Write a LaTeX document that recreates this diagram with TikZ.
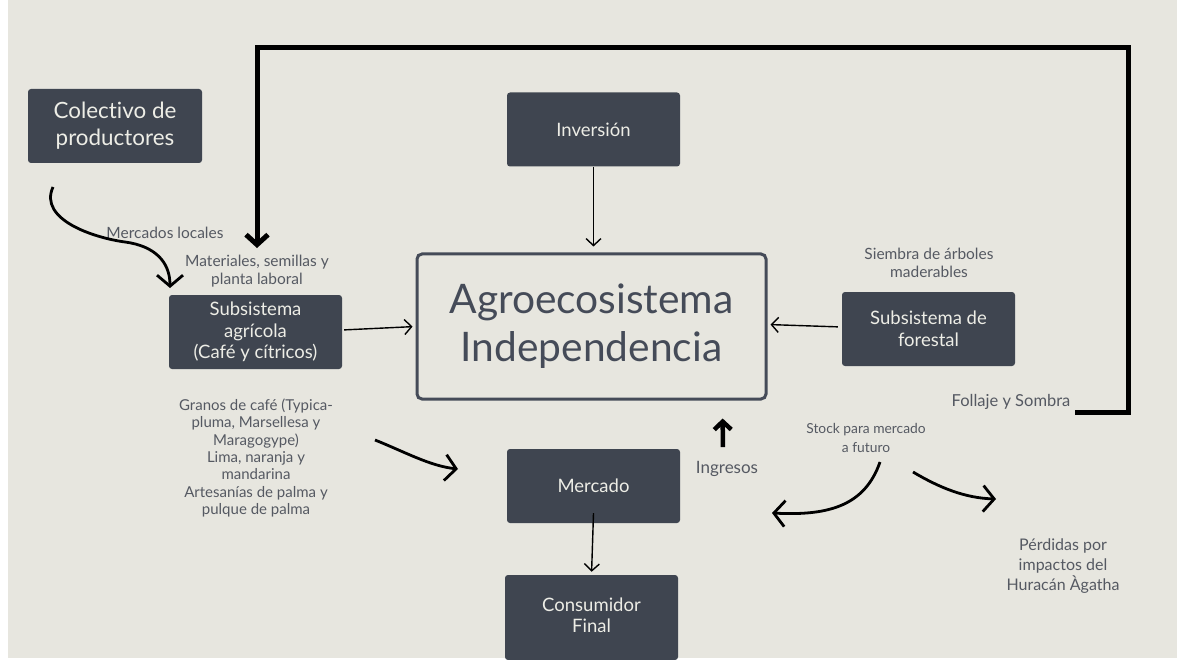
\documentclass[tikz,border=0pt]{standalone}
\usepackage{fontspec}
\setmainfont{Lato}[Ligatures={NoCommon,NoRare}]
\usetikzlibrary{arrows.meta,calc}
\definecolor{bg}{HTML}{E7E6DF}
\definecolor{boxc}{HTML}{3F4550}
\definecolor{boxtxt}{HTML}{EDEDE6}
\definecolor{lbl}{HTML}{555962}
\definecolor{mainc}{HTML}{454B58}
\begin{document}
\begin{tikzpicture}[x=1pt,y=-1pt,
  darkbox/.style={fill=boxc, rounded corners=3pt, text=boxtxt, align=center, inner sep=0pt,
    minimum width=173pt, minimum height=74pt, font=\fontsize{18.5}{21.5}\selectfont},
  lab/.style={text=lbl, align=center, inner sep=0pt, font=\fontsize{15.5}{17.5}\selectfont},
  thinarr/.style={line width=1.4pt, -{Straight Barb[length=7pt,width=15pt]}},
  curvarr/.style={line width=2.8pt, -{Straight Barb[length=11pt,width=26pt]}},
  bigarr/.style={line width=5pt, -{Straight Barb[length=10pt,width=22pt]}}]
\useasboundingbox (0,0) rectangle (1177,660);
\fill[white] (0,0) rectangle (1177,660);
\fill[bg] (8,0) rectangle (1177,658);

% boxes
\node[darkbox, minimum width=174pt, font=\fontsize{22.4}{27}\selectfont] (col) at (115,126) {Colectivo de\\productores};
\node[darkbox] (inv) at (593.5,129.5) {Inversión};
\node[draw=mainc, line width=3pt, rounded corners=5pt, minimum width=349pt, minimum height=145pt,
  text=mainc, align=center, inner sep=0pt, font=\fontsize{40.7}{48}\selectfont] (main) at (591.5,326.5) {Agroecosistema\\Independencia};
\node[darkbox] (agr) at (255.5,332) {Subsistema\\agrícola\\(Café y cítricos)};
\node[darkbox, font=\fontsize{18.5}{22}\selectfont] (for) at (928.5,329) {Subsistema de\\forestal};
\node[darkbox] (merc) at (593.5,486) {Mercado};
\node[darkbox, minimum height=85pt] (cons) at (591.5,617.5) {\raisebox{-5pt}{\begin{tabular}{@{}c@{}}Consumidor\\Final\end{tabular}}};

% labels
\node[lab] (mloc) at (165,233) {Mercados locales};
\node[lab] (mat) at (257,271) {Materiales, semillas y\\planta laboral};
\node[lab] (sie) at (929,263) {Siembra de árboles\\maderables};
\node[lab, font=\fontsize{16.5}{18}\selectfont] (fol) at (1011,402) {Follaje y Sombra};
\node[lab, font=\fontsize{13.8}{19}\selectfont] (stock) at (866,438) {Stock para mercado\\a futuro};
\node[lab, font=\fontsize{17}{20}\selectfont] (ing) at (727,469) {Ingresos};
\node[lab, font=\fontsize{16}{20}\selectfont] (per) at (1063,566) {Pérdidas por\\impactos del\\Huracán Àgatha};
\node[lab, font=\fontsize{15}{17.3}\selectfont] (gra) at (256,458) {Granos de café (Typica-\\pluma, Marsellesa y\\Maragogype)\\Lima, naranja y\\mandarina\\Artesanías de palma y\\pulque de palma};

% free-end coordinates
\coordinate (loopstart) at (1075,412);
\coordinate (loopcorner) at (1128,48);
\coordinate (c1) at (53,187);
\coordinate (c2) at (170,288);
\coordinate (g1) at (375,440);
\coordinate (g2) at (458,469);
\coordinate (s1) at (880,462);
\coordinate (s2) at (772,513);
\coordinate (s3) at (913,472);
\coordinate (s4) at (996,499);

% connectors
\draw[bigarr] (loopstart) -| (loopcorner) -| ($(mat.north)+(0,-7)$);
\draw[thinarr, shorten >=6pt] (inv.south) -- ($(main.north)+(2,0)$);
\draw[thinarr, shorten <=2pt, shorten >=3pt] ($(agr.east)+(0,-2)$) -- (main.west);
\draw[thinarr, shorten <=4pt, shorten >=3pt] ($(for.west)+(0,-2)$) -- ($(main.east)+(0,-2)$);
\draw[thinarr, shorten >=3pt] ($(merc.south)+(0,-10)$) -- (cons.north);
\draw[line width=4.5pt, -{Straight Barb[length=8pt,width=17pt]}, shorten <=14pt, shorten >=18pt] ($(ing.north)+(-4,0)$) -- ($(main.south)+(131,0)$);
\draw[curvarr] (c1) .. controls (38,220) and (95,238) .. (125,242) .. controls (155,246) and (170,262) .. (c2);
\draw[curvarr] (g1) .. controls (405,452) and (430,466) .. (g2);
\draw[curvarr] (s1) .. controls (865,505) and (830,516) .. (s2);
\draw[curvarr] (s3) .. controls (940,488) and (965,498) .. (s4);
\end{tikzpicture}
\end{document}
